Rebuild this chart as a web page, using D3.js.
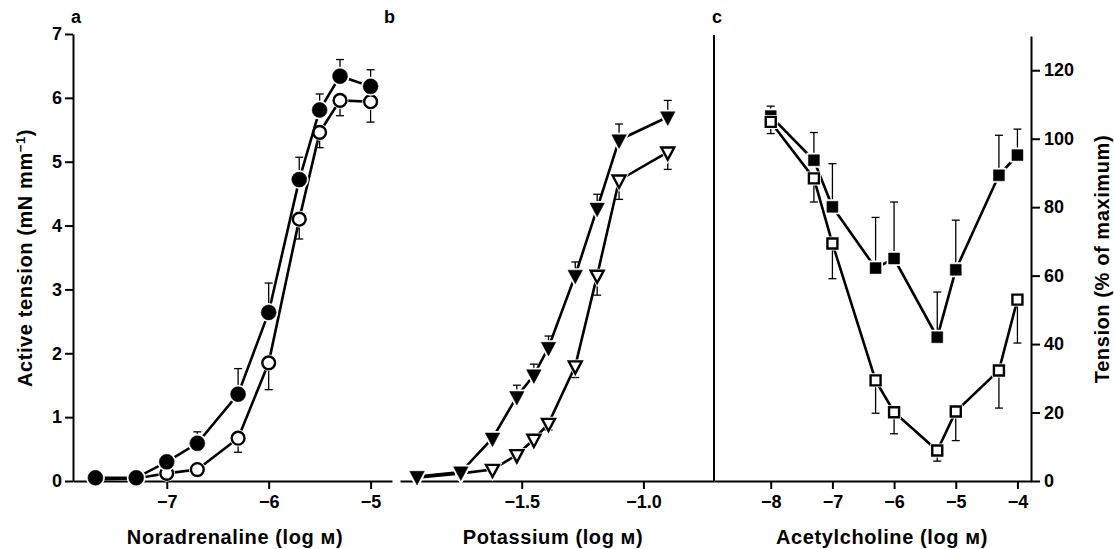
<!DOCTYPE html>
<html>
<head>
<meta charset="utf-8">
<script src="https://cdn.jsdelivr.net/npm/d3@7"></script>
<style>
  body { margin: 0; background: #fff; }
  svg { font-family: "Liberation Sans", Arial, sans-serif; font-weight: bold; }
  .axis text { font-size: 18px; font-weight: bold; fill: #000; }
  .axis path, .axis line { stroke: #000; stroke-width: 2; }
  .title { font-size: 20px; letter-spacing: 0.6px; }
</style>
</head>
<body>
<svg id="chart" width="1114" height="549"></svg>
<script>
// Panel a: noradrenaline (log M) vs active tension (mN/mm)
const naX = [-7.7, -7.3, -7.0, -6.7, -6.3, -6.0, -5.7, -5.5, -5.3, -5.0];
const naFilled = [0.05, 0.05, 0.30, 0.59, 1.36, 2.64, 4.72, 5.81, 6.34, 6.18];
const naFilledSem = [0, 0, 0.12, 0.18, 0.40, 0.46, 0.35, 0.25, 0.26, 0.26];
const naOpen = [0.03, 0.04, 0.12, 0.18, 0.67, 1.85, 4.10, 5.46, 5.96, 5.94];
const naOpenSem = [0, 0, 0, 0, 0.22, 0.42, 0.31, 0.24, 0.24, 0.32];

// Panel b: potassium (log M)
const kX = [-1.93, -1.75, -1.62, -1.52, -1.45, -1.39, -1.28, -1.19, -1.10, -0.90];
const kFilled = [0.07, 0.14, 0.67, 1.32, 1.66, 2.09, 3.22, 4.27, 5.34, 5.70];
const kFilledSem = [0, 0, 0.10, 0.18, 0.17, 0.18, 0.21, 0.22, 0.25, 0.26];
const kOpen = [0.05, 0.12, 0.18, 0.41, 0.65, 0.90, 1.80, 3.22, 4.71, 5.15];
const kOpenSem = [0, 0, 0, 0, 0, 0.10, 0.18, 0.31, 0.30, 0.27];

// Panel c: acetylcholine (log M) vs tension (% of maximum)
const achX = [-8, -7.3, -7, -6.3, -6, -5.3, -5, -4.3, -4];
const achFilled = [106.6, 93.7, 80.1, 62.2, 65.0, 42.0, 61.7, 89.3, 95.2];
const achFilledSem = [2.9, 8.1, 12.6, 14.8, 16.5, 13.2, 14.5, 11.7, 7.6];
const achOpen = [104.9, 88.4, 69.4, 29.4, 20.1, 8.9, 20.3, 32.3, 53.0];
const achOpenSem = [3.4, 6.9, 10.3, 9.6, 6.3, 3.1, 8.5, 11.0, 12.7];

const tensionTicks = [0, 1, 2, 3, 4, 5, 6, 7];
const percentTicks = [0, 20, 40, 60, 80, 100, 120];
const naTicks = [-7, -6, -5];
const kTicks = [-1.5, -1.0];
const achTicks = [-8, -7, -6, -5, -4];

const svg = d3.select('#chart');
const baseY = 481;

// scales
const yA = d3.scaleLinear().domain([0, 7]).range([baseY, 34]);
const xA = d3.scaleLinear().domain([-7.92, -4.79]).range([73, 392]);
const xB = d3.scaleLinear().domain([-2.0, -0.71]).range([400, 714]);
const xC = d3.scaleLinear().domain([-8.92, -3.78]).range([714, 1031]);
const yC = d3.scaleLinear().domain([0, 130]).range([baseY, 36]);

const fmt = d3.format('');
const fmt1 = d3.format('.1f');

// axes
svg.append('g').attr('class', 'axis')
    .attr('transform', `translate(73,0)`)
    .call(d3.axisLeft(yA).tickValues(tensionTicks).tickFormat(fmt).tickSize(8).tickSizeOuter(0).tickPadding(3));

svg.append('g').attr('class', 'axis')
    .attr('transform', `translate(0,${baseY})`)
    .call(d3.axisBottom(xA).tickValues(naTicks).tickFormat(fmt).tickSize(8).tickSizeOuter(0).tickPadding(6));

svg.append('g').attr('class', 'axis')
    .attr('transform', `translate(0,${baseY})`)
    .call(d3.axisBottom(xB).tickValues(kTicks).tickFormat(fmt1).tickSize(8).tickSizeOuter(0).tickPadding(6));

svg.append('g').attr('class', 'axis')
    .attr('transform', `translate(0,${baseY})`)
    .call(d3.axisBottom(xC).tickValues(achTicks).tickFormat(fmt).tickSize(8).tickSizeOuter(0).tickPadding(6));

svg.append('g').attr('class', 'axis')
    .attr('transform', `translate(1031,0)`)
    .call(d3.axisRight(yC).tickValues(percentTicks).tickSize(9).tickSizeOuter(0).tickPadding(4));

// separator between b and c
svg.append('line')
    .attr('x1', 714).attr('x2', 714)
    .attr('y1', 35).attr('y2', baseY)
    .attr('stroke', '#000').attr('stroke-width', 2);

// marker shapes
const circle = r => d3.symbol(d3.symbolCircle, Math.PI * r * r)();
const square = s => d3.symbol(d3.symbolSquare, s * s)();
const triDown = w => `M${-w / 2},${-w * 0.36}L${w / 2},${-w * 0.36}L0,${w * 0.58}Z`;

function drawSeries(xs, ys, sem, dir, x, y, shape, filled) {
  const data = xs.map((d, i) => ({ x: d, y: ys[i], e: sem[i] }));
  const g = svg.append('g');

  // error bars (one-sided)
  const eb = g.selectAll('.err').data(data.filter(d => d.e > 0)).join('g');
  eb.append('line')
      .attr('x1', d => x(d.x)).attr('x2', d => x(d.x))
      .attr('y1', d => y(d.y)).attr('y2', d => y(d.y + dir * d.e))
      .attr('stroke', '#000').attr('stroke-width', 1.3);
  eb.append('line')
      .attr('x1', d => x(d.x) - 4).attr('x2', d => x(d.x) + 4)
      .attr('y1', d => y(d.y + dir * d.e)).attr('y2', d => y(d.y + dir * d.e))
      .attr('stroke', '#000').attr('stroke-width', 1.3);

  g.append('path')
      .datum(data)
      .attr('fill', 'none')
      .attr('stroke', '#000')
      .attr('stroke-width', 2.6)
      .attr('d', d3.line().x(d => x(d.x)).y(d => y(d.y)));

  // white halo gives the small gaps where lines meet markers
  g.selectAll('.halo').data(data).join('path')
      .attr('transform', d => `translate(${x(d.x)},${y(d.y)})`)
      .attr('d', shape)
      .attr('fill', '#fff').attr('stroke', '#fff').attr('stroke-width', 4);

  g.selectAll('.mark').data(data).join('path')
      .attr('transform', d => `translate(${x(d.x)},${y(d.y)})`)
      .attr('d', shape)
      .attr('fill', filled ? '#000' : '#fff')
      .attr('stroke', '#000')
      .attr('stroke-width', filled ? 0.5 : 2.4);
}

drawSeries(naX, naOpen, naOpenSem, -1, xA, yA, circle(6.4), false);
drawSeries(naX, naFilled, naFilledSem, 1, xA, yA, circle(7.5), true);

drawSeries(kX, kOpen, kOpenSem, -1, xB, yA, triDown(13), false);
drawSeries(kX, kFilled, kFilledSem, 1, xB, yA, triDown(14.5), true);

drawSeries(achX, achFilled, achFilledSem, 1, xC, yC, square(11), true);
drawSeries(achX, achOpen, achOpenSem, -1, xC, yC, square(10), false);

// panel letters
[['a', 71], ['b', 384], ['c', 712]].forEach(([t, px]) => {
  svg.append('text').attr('x', px).attr('y', 23)
      .attr('font-size', 18).attr('font-weight', 'bold').text(t);
});

// axis titles
const xTitle = (txt, cx) => svg.append('text')
    .attr('class', 'title')
    .attr('x', cx).attr('y', 544)
    .attr('text-anchor', 'middle')
    .text(txt);
xTitle('Noradrenaline (log м)', 235);
xTitle('Potassium (log м)', 553);
xTitle('Acetylcholine (log м)', 882);

const yl = svg.append('text')
    .attr('class', 'title')
    .attr('transform', 'translate(32,258) rotate(-90)')
    .attr('text-anchor', 'middle');
yl.append('tspan').text('Active tension (mN mm');
yl.append('tspan').attr('dy', -7).attr('font-size', 13).text('−1');
yl.append('tspan').attr('dy', 7).text(')');

svg.append('text')
    .attr('class', 'title')
    .attr('transform', 'translate(1109,259) rotate(-90)')
    .attr('text-anchor', 'middle')
    .text('Tension (% of maximum)');
</script>
</body>
</html>
